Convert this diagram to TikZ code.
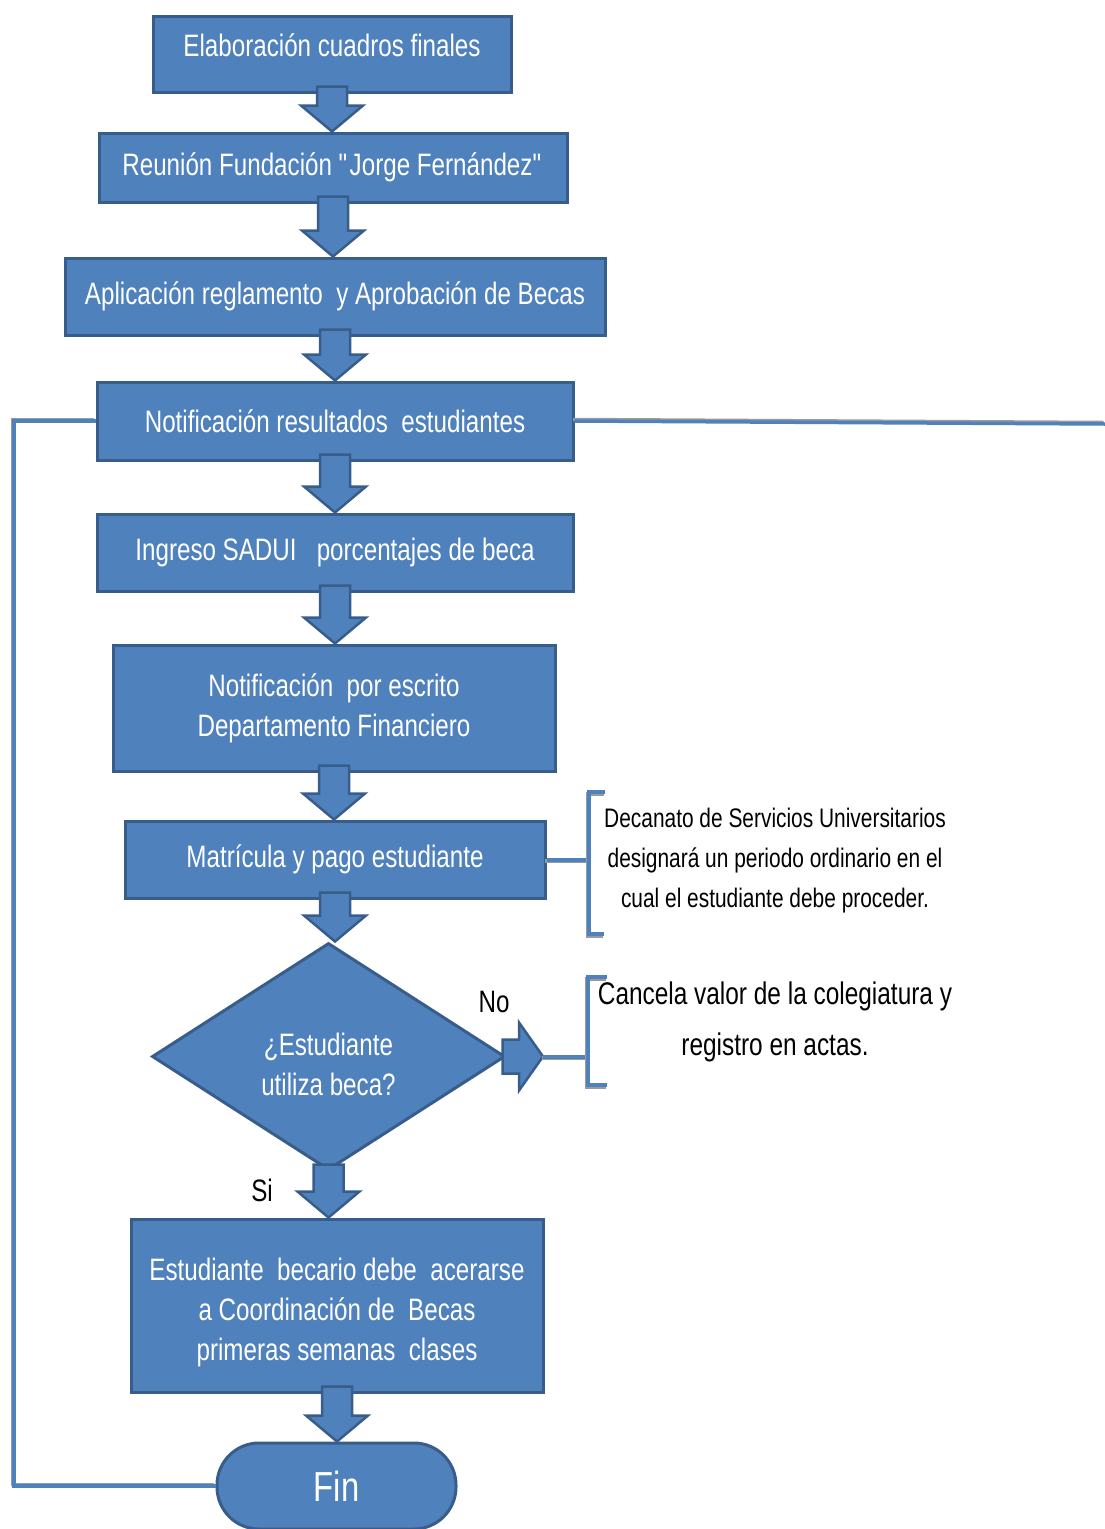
\documentclass[tikz,border=0pt]{standalone}
\usepackage{fontspec}
\setmainfont{Liberation Sans}[FakeStretch=0.78]
\usetikzlibrary{shapes.geometric,calc}
\definecolor{boxfill}{HTML}{4F81BD}
\definecolor{boxline}{HTML}{385D8A}
\definecolor{shadowgray}{HTML}{9A9A9A}

\newcommand\downblock[2]{%
 \path let \p1=(#1.south), \p2=(#2.north) in
 [fill=boxfill, draw=boxline, line width=2.5pt, line join=miter]
 (\x1-15pt,\y1+7pt) -- (\x1-15pt,\y2+26pt) -- (\x1-31pt,\y2+26pt) -- (\x1,\y2)
 -- (\x1+31pt,\y2+26pt) -- (\x1+15pt,\y2+26pt) -- (\x1+15pt,\y1+7pt) -- cycle;}

\newcommand\rightblock[2]{%
 \path let \p1=(#1.east), \p2=(#2) in
 [fill=boxfill, draw=boxline, line width=2.5pt, line join=miter]
 (\x1-4pt,\y2+17pt) -- (\x2-24pt,\y2+17pt) -- (\x2-24pt,\y2+34pt) -- (\x2,\y2)
 -- (\x2-24pt,\y2-34pt) -- (\x2-24pt,\y2-17pt) -- (\x1-4pt,\y2-17pt) -- cycle;}

\begin{document}
\begin{tikzpicture}[x=1pt,y=1pt,
  box/.style={draw=boxline, fill=boxfill, line width=3pt, text=white,
    font=\fontsize{31}{40}\selectfont, align=center, inner sep=0pt},
  conn/.style={draw=boxfill, line width=3.5pt,
    preaction={draw=shadowgray, line width=3.5pt, transform canvas={xshift=-1.5pt,yshift=1.5pt}}},
  brk/.style={draw=boxfill, line width=4pt,
    preaction={draw=shadowgray, line width=4pt, transform canvas={xshift=-1.5pt,yshift=-1.5pt}}},
  note/.style={text=black, align=center, inner sep=0pt},
  lbl/.style={text=black, font=\fontsize{31}{36}\selectfont, inner sep=0pt}
]
\useasboundingbox (0,0) rectangle (1105,-1529);

\node[box, minimum width=358, minimum height=76] (n1) at (332,-54) {\raisebox{-2pt}[0pt][0pt]{Elaboración cuadros finales}};
\node[box, minimum width=468, minimum height=69] (n2) at (333,-167.5) {Reunión Fundación \textquotedbl Jorge Fernández\textquotedbl};
\node[box, minimum width=540, minimum height=77] (n3) at (335,-296.5) {Aplicación reglamento\ \ y Aprobación de Becas};
\node[box, minimum width=476, minimum height=78] (n4) at (335,-421) {Notificación resultados\ \ estudiantes};
\node[box, minimum width=476, minimum height=77] (n5) at (335,-552.5) {Ingreso SADUI\ \ \ porcentajes de beca};
\node[box, minimum width=442, minimum height=126] (n6) at (334,-708) {Notificación\ \ por escrito\\Departamento Financiero};
\node[box, minimum width=420, minimum height=77] (n7) at (335,-859.5) {Matrícula y pago estudiante};
\node[box, shape=diamond, minimum width=353, minimum height=227] (d) at (328.5,-1056.5)
  {\raisebox{-17pt}[0pt][0pt]{\begin{tabular}{@{}c@{}}¿Estudiante\\utiliza beca?\end{tabular}}};
\node[box, minimum width=412, minimum height=173] (n9) at (337,-1305.5)
  {\raisebox{-12.75pt}[0pt][0pt]{\begin{tabular}{@{}c@{}}Estudiante\ \ becario debe\ \ acerarse\\a Coordinación de\ \ Becas\\primeras semanas\ \ clases\end{tabular}}};
\node[box, minimum width=239, minimum height=86, rounded corners=42pt, font=\fontsize{42}{48}\selectfont] (fin) at (336.5,-1486) {Fin};

% block arrows
\downblock{n1}{n2}
\downblock{n2}{n3}
\downblock{n3}{n4}
\downblock{n4}{n5}
\downblock{n5}{n6}
\downblock{n6}{n7}
\downblock{n7}{d}
\downblock{d}{n9}
\downblock{n9}{fin}
\coordinate (notip) at (543,-1056.5);
\rightblock{d}{notip}

% loop lines
\coordinate (lc) at (14,-1000);
\coordinate (rc) at (1105,-424);
\draw[conn] (n4.west) -| (lc) |- (fin.west);
\draw[conn] (n4.east) -- (rc);

% annotation 1
\coordinate (b1) at (589,-860);
\draw[brk] (n7.east) -- (n7.east -| b1);
\draw[brk] (605,-792) -- (589,-792) -- (589,-934) -- (604,-934);
\node[note, font=\fontsize{26.8}{40}\selectfont] (t1) at (775,-861)
  {Decanato de Servicios Universitarios\\designará un periodo ordinario en el\\cual el estudiante debe proceder.};

% annotation 2
\coordinate (b2) at (588,-1056.5);
\draw[brk] (notip) -- (b2);
\draw[brk] (607,-977) -- (588,-977) -- (588,-1085) -- (607,-1085);
\node[note, font=\fontsize{31.3}{51}\selectfont] (t2) at (775,-1021.5)
  {Cancela valor de la colegiatura y\\registro en actas.};

\node[lbl] (no) at (494,-1002) {No};
\node[lbl] (si) at (262,-1190) {Si};
\end{tikzpicture}
\end{document}
